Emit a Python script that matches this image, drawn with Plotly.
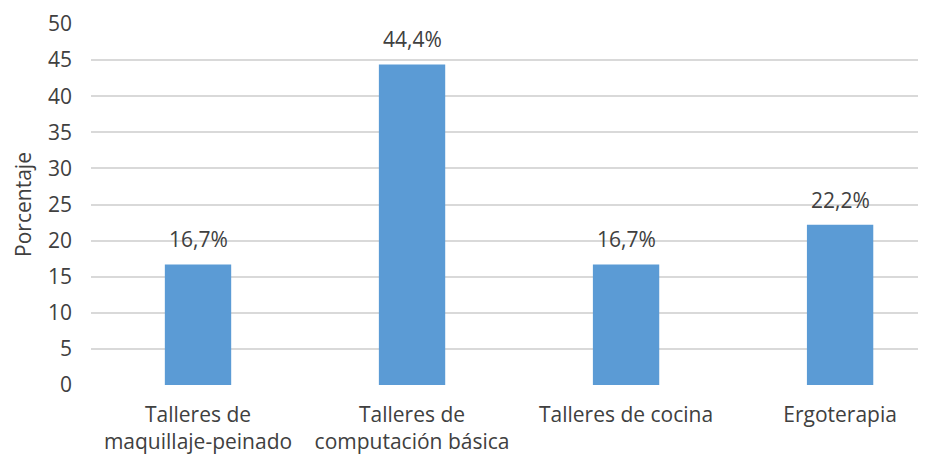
import plotly.graph_objects as go

categories = ["Talleres de<br>maquillaje-peinado", "Talleres de<br>computación básica",
              "Talleres de cocina", "Ergoterapia"]
values = [16.7, 44.4, 16.7, 22.2]
labels = ["16,7%", "44,4%", "16,7%", "22,2%"]
y_ticks = [0, 5, 10, 15, 20, 25, 30, 35, 40, 45, 50]

font_family = "Open Sans"
text_color = "#404040"
fs = 21

xs = list(range(len(categories)))

fig = go.Figure(go.Bar(
    x=xs,
    y=values,
    marker=dict(color="#5B9BD5", line=dict(width=0)),
    width=0.31,
))

for x, v, t in zip(xs, values, labels):
    fig.add_annotation(x=x, y=v, text=t, showarrow=False, yanchor="bottom",
                       yshift=9, font=dict(family=font_family, size=fs, color=text_color))

fig.update_layout(
    width=938, height=457,
    margin=dict(l=83, r=28, t=16, b=80, autoexpand=False),
    paper_bgcolor="white", plot_bgcolor="white",
    showlegend=False,
    font=dict(family=font_family, size=fs, color=text_color),
    xaxis=dict(
        tickmode="array",
        tickvals=xs,
        ticktext=categories,
        range=[-0.5, 3.364],
        showgrid=False, zeroline=False, showline=False,
        ticks="", ticklabelstandoff=15,
        tickfont=dict(family=font_family, size=fs, color=text_color),
        automargin=False,
    ),
    yaxis=dict(
        range=[0, 50],
        tickvals=y_ticks,
        showgrid=True, gridcolor="#D9D9D9", gridwidth=1.5,
        zeroline=False, showline=False, ticks="",
        ticklabelstandoff=18,
        tickfont=dict(family=font_family, size=fs, color=text_color),
        title=dict(text="Porcentaje", font=dict(family=font_family, size=fs, color=text_color), standoff=10),
        automargin=False,
    ),
)

fig.write_html("out.html")
